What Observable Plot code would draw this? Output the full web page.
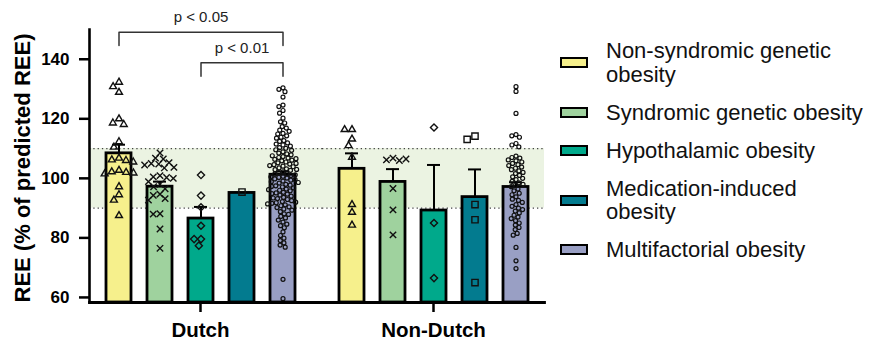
<!DOCTYPE html>
<html><head><meta charset="utf-8">
<script src="https://cdn.jsdelivr.net/npm/d3@7"></script>
<script src="https://cdn.jsdelivr.net/npm/@observablehq/plot@0.6"></script>
<style>
body{margin:0;background:#fff;font-family:"Liberation Sans",Arial,sans-serif;}
#wrap{position:relative;width:869px;height:342px;overflow:hidden;}
#legend{position:absolute;left:560px;top:39px;z-index:2;}
.item{display:flex;align-items:center;margin-bottom:14.5px;}
.sw{width:28px;height:11px;border:2.5px solid #000;box-sizing:border-box;flex:none;margin-right:18px;}
.lab{font-size:22px;line-height:23.5px;color:#111;white-space:nowrap;}
#wrap svg{position:absolute;left:0;top:0;}
</style></head>
<body><div id="wrap"><div id="legend"></div></div>
<script>
const groups = ["Dutch", "Non-Dutch"];
const categories = ["Non-syndromic genetic obesity", "Syndromic genetic obesity", "Hypothalamic obesity", "Medication-induced obesity", "Multifactorial obesity"];
const legendLines = [["Non-syndromic genetic", "obesity"], ["Syndromic genetic obesity"], ["Hypothalamic obesity"], ["Medication-induced", "obesity"], ["Multifactorial obesity"]];
const colors = ["#f6f08c", "#9fd29e", "#00a98b", "#037b8f", "#999fc4"];
const symbols = ["triangle2", "times", "diamond2", "square2", "circle"];

// bar heights (mean) and SEM
const dutchMean = [108.4, 97.2, 86.5, 95.1, 101.2];
const dutchSEM = [2.9, 1.7, 3.9, 0, 1.1];
const nonDutchMean = [103.2, 98.8, 89.2, 93.7, 97.1];
const nonDutchSEM = [5.2, 4.3, 15.3, 9.3, 1.6];

// individual REE values
const dutchNonSyndromic = [132.3, 130.8, 128.9, 120.0, 118.6, 118.1, 112.3, 110.5, 106.8, 106.2, 106.0, 105.5, 102.7, 102.2, 102.0, 101.8, 101.5, 97.2, 94.5, 92.7, 87.5];
const dutchSyndromic = [108.5, 106.8, 106.5, 105.3, 105.0, 104.8, 104.5, 103.7, 103.5, 100.9, 100.5, 100.3, 100.0, 98.9, 98.0, 97.2, 96.5, 94.7, 94.3, 93.2, 92.7, 88.1, 88.0, 83.0, 76.5];
const dutchHypothalamic = [101.1, 94.2, 90.3, 84.1, 79.6, 79.6, 77.4];
const dutchMedication = [95.4];
const dutchMultifactorial = [130.4, 129.9, 129.1, 127.3, 124.6, 124.1, 122.8, 121.9, 120.2, 119.0, 118.6, 117.4, 116.9, 116.2, 115.8, 115.1, 114.9, 114.3, 113.8, 113.5, 112.7, 112.4, 111.9, 111.5, 111.2, 110.8, 110.3, 110.1, 109.6, 109.4,
  108.9, 108.5, 108.2, 107.9, 107.3, 107.0, 106.8, 106.4, 106.1, 105.9, 105.5, 105.2, 104.8, 104.6, 104.1, 103.9, 103.5, 103.2, 102.9, 102.7, 102.2, 101.9, 101.6, 101.4, 101.0, 100.7, 100.3, 100.1, 99.8, 99.4, 99.1, 98.9, 98.4, 98.0, 97.7, 97.5, 97.1, 96.8, 96.4, 96.0, 95.8, 95.3, 95.1, 94.7, 94.4, 94.0, 93.6, 93.2, 92.9, 92.5, 92.2, 91.8, 91.6, 91.1, 90.8, 90.4, 90.2,
  107.6, 106.6, 105.0, 104.3, 103.0, 101.2, 100.5, 99.6, 98.6, 97.3, 96.2, 94.9, 93.4, 92.0, 91.4,
  89.7, 89.3, 88.8, 88.1, 87.9, 87.2, 86.7, 86.0, 85.3, 84.6, 84.1, 83.4,
  82.0, 80.8, 79.9, 79.1, 78.3, 77.6, 76.9, 66.1, 59.6];
const nonDutchNonSyndromic = [116.4, 116.4, 113.2, 111.0, 107.1, 91.2, 88.6, 84.3];
const nonDutchSyndromic = [106.8, 106.2, 106.0, 106.5, 96.6, 89.4, 81.0];
const nonDutchHypothalamic = [117.1, 85.0, 66.5];
const nonDutchMedication = [114.2, 113.1, 91.2, 86.1, 65.0];
const nonDutchMultifactorial = [130.8, 129.2, 121.8, 114.7, 114.3, 113.8, 111.7, 111.2, 110.6,
  107.5, 107.0, 106.8, 106.2, 105.9, 105.5, 105.0, 104.6, 104.3, 103.8, 103.4, 102.9, 102.5, 102.0, 101.6, 101.0, 100.5, 100.0, 99.6, 99.0, 98.5, 98.0, 97.6, 97.2,
  96.4, 95.8, 95.0, 94.5, 93.8, 93.0, 92.6, 91.9, 91.2, 90.6, 90.0, 89.5, 89.0, 88.4, 87.6, 87.0, 86.5, 85.8, 85.0, 84.3, 83.5, 82.8, 81.5, 80.9,
  76.8, 72.3, 69.7];

const normalRange = [90, 110];
const brackets = [
  {group: "Dutch", from: 0, to: 4, label: "p < 0.05"},
  {group: "Dutch", from: 2, to: 4, label: "p < 0.01"}
];
const bracketLevels = [149.1, 138.8];

const yAxisLabel = "REE (% of predicted REE)";
const yTicks = [60, 80, 100, 120, 140];
const yDomain = [58.3, 150];

// tables
const bars = [];
groups.forEach((g, gi) => categories.forEach((c, ci) => {
  bars.push({group: g, cat: c, mean: (gi ? nonDutchMean : dutchMean)[ci], sem: (gi ? nonDutchSEM : dutchSEM)[ci]});
}));
const pointLists = [
  [dutchNonSyndromic, nonDutchNonSyndromic],
  [dutchSyndromic, nonDutchSyndromic],
  [dutchHypothalamic, nonDutchHypothalamic],
  [dutchMedication, nonDutchMedication],
  [dutchMultifactorial, nonDutchMultifactorial]
];
const points = categories.map((c, ci) => groups.flatMap((g, gi) => pointLists[ci][gi].map(v => ({group: g, cat: c, v}))));
const bandRows = groups.map(g => ({group: g, lo: normalRange[0], hi: normalRange[1]}));
const ruleRows = groups.flatMap(g => normalRange.map(y => ({group: g, y})));

const bracketLines = brackets.flatMap((b, i) => {
  const L = bracketLevels[i];
  return [
    {id: i, group: b.group, x: categories[b.from], y: L - 4.5},
    {id: i, group: b.group, x: categories[b.from], y: L},
    {id: i, group: b.group, x: categories[b.to], y: L},
    {id: i, group: b.group, x: categories[b.to], y: L - 4.5}
  ];
});
const bracketText = brackets.map((b, i) => ({group: b.group, x: categories[(b.from + b.to) / 2], y: bracketLevels[i] + 3.3, label: b.label}));

function makePlot(dotMarks, gap) {
  const first = d => d.group === groups[0], rest = d => d.group !== groups[0];
  return Plot.plot({
    width: 869, height: 342,
    marginLeft: 88, marginRight: 324, marginTop: 29, marginBottom: 40,
    style: {fontFamily: "'Liberation Sans', Arial, sans-serif", color: "#000", background: "transparent"},
    fx: {domain: groups, paddingInner: 0.047, paddingOuter: 0, label: null, axis: null},
    x: {domain: categories, padding: 0.4, axis: null},
    y: {domain: yDomain, axis: null},
    color: {domain: categories, range: colors},
    marks: [
      Plot.rect(bandRows.filter(first), {fx: "group", y1: "lo", y2: "hi", fill: "#ebf3e2", insetRight: -gap}),
      Plot.rect(bandRows.filter(rest), {fx: "group", y1: "lo", y2: "hi", fill: "#ebf3e2"}),
      Plot.ruleY(ruleRows.filter(first), {fx: "group", y: "y", stroke: "#444", strokeWidth: 1.2, strokeDasharray: "1.3,3", insetRight: -gap}),
      Plot.ruleY(ruleRows.filter(rest), {fx: "group", y: "y", stroke: "#444", strokeWidth: 1.2, strokeDasharray: "1.3,3"}),
      Plot.barY(bars, {fx: "group", x: "cat", y1: yDomain[0], y2: "mean", fill: "cat", stroke: "#000", strokeWidth: 2.8}),
      Plot.ruleX(bars.filter(d => d.sem > 0), {fx: "group", x: "cat", y1: "mean", y2: d => d.mean + d.sem, stroke: "#000", strokeWidth: 2}),
      Plot.tickY(bars.filter(d => d.sem > 0), {fx: "group", x: "cat", y: d => d.mean + d.sem, stroke: "#000", strokeWidth: 2, insetLeft: 6, insetRight: 6}),
      ...dotMarks,
      Plot.axisY({ticks: yTicks, tickSize: 10, tickPadding: 10, fontSize: 17, fontWeight: "bold", strokeWidth: 2.5, label: null}),
      Plot.frame({anchor: "left", facet: "super", strokeWidth: 2.6}),
      Plot.frame({anchor: "bottom", facet: "super", strokeWidth: 2.8}),
      Plot.axisFx({anchor: "bottom", tickSize: 10, tickPadding: 10, fontSize: 20.5, fontWeight: "bold", strokeWidth: 2.5, label: null}),
      Plot.line(bracketLines, {fx: "group", x: "x", y: "y", z: "id", stroke: "#333", strokeWidth: 1.5}),
      Plot.text(bracketText, {fx: "group", x: "x", y: "y", text: "label", fontSize: 15, fill: "#222", lineAnchor: "bottom"}),
      Plot.text([yAxisLabel], {frameAnchor: "left", textAnchor: "middle", lineAnchor: "middle", rotate: -90, dx: -67, dy: 2, fontSize: 22, fontWeight: "bold", fill: "#000", facet: "super"})
    ]
  });
}

// first pass: read the scales to place each category's swarm on its bar
const base = makePlot([], 0);
const xs = base.scale("x"), fxs = base.scale("fx");
const gap = fxs.apply(groups[1]) - fxs.apply(groups[0]) - fxs.bandwidth;
const xMid = (xs.range[0] + xs.range[1]) / 2;
const rs = [3.3, 3, 3.2, 4, 2];
const pads = [0.8, 0.8, 0.5, 0.5, 0.35];
const dotMarks = categories.map((c, ci) => Plot.dot(points[ci], Plot.dodgeX({anchor: "middle", padding: pads[ci]}, {
  fx: "group", y: "v", r: rs[ci], symbol: symbols[ci], fill: "none", stroke: "#111", strokeWidth: ci === 4 ? 1.2 : 1.4,
  dx: xs.apply(c) - xMid
})));
const chart = makePlot(dotMarks, gap);
document.getElementById("wrap").appendChild(chart);

const legend = document.getElementById("legend");
categories.forEach((c, i) => {
  const item = document.createElement("div");
  item.className = "item";
  const sw = document.createElement("div");
  sw.className = "sw"; sw.style.background = colors[i];
  const lab = document.createElement("div");
  lab.className = "lab";
  legendLines[i].forEach((t, k) => { if (k) lab.appendChild(document.createElement("br")); lab.appendChild(document.createTextNode(t)); });
  item.appendChild(sw); item.appendChild(lab);
  legend.appendChild(item);
});
</script>
</body></html>
